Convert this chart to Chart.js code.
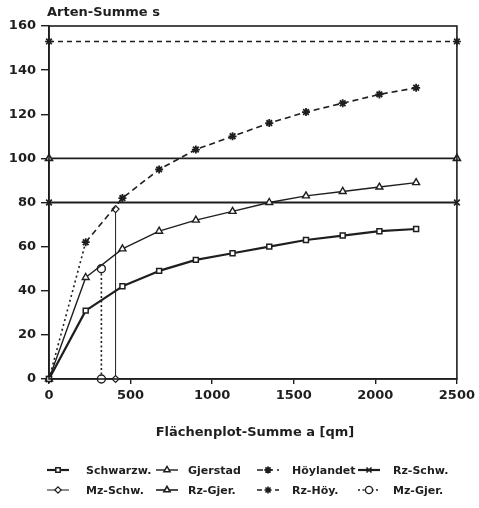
<!DOCTYPE html>
<html><head><meta charset="utf-8">
<script src="https://cdn.jsdelivr.net/npm/chart.js@4.4.1/dist/chart.umd.min.js"></script>
<style>html,body{margin:0;padding:0;background:#fff;}#wrap{width:479px;height:508px;}</style>
</head><body><div id="wrap"><canvas id="c" width="479" height="508"></canvas></div>
<script>
// ---- data ----
const xSteps    = [0, 225, 450, 675, 900, 1125, 1350, 1575, 1800, 2025, 2250];
const schwarzw  = [0, 31, 42, 49, 54, 57, 60, 63, 65, 67, 68];
const gjerstad  = [0, 46, 59, 67, 72, 76, 80, 83, 85, 87, 89];
const hoylandet = [0, 62, 82, 95, 104, 110, 116, 121, 125, 129, 132];
const rzX    = [0, 2500];
const rzSchw = [80, 80];
const rzGjer = [100, 100];
const rzHoy  = [153, 153];
const mzSchwX = [408, 408];
const mzSchwY = [0, 77];
const mzGjerX = [321, 321];
const mzGjerY = [0, 50];
const xTickVals = [0, 500, 1000, 1500, 2000, 2500];
const yTickVals = [0, 20, 40, 60, 80, 100, 120, 140, 160];
const seriesNames = ['Schwarzw.', 'Gjerstad', 'Höylandet', 'Rz-Schw.', 'Mz-Schw.', 'Rz-Gjer.', 'Rz-Höy.', 'Mz-Gjer.'];
const yTitle = 'Arten-Summe s';
const xTitle = 'Flächenplot-Summe a [qm]';

const INK = '#1e1e1e';
const FONT = '"DejaVu Sans", Verdana, sans-serif';
const pts = (xs, ys) => xs.map((x, i) => ({x: x, y: ys[i]}));

const datasets = [
  {label: seriesNames[0], data: pts(xSteps, schwarzw), borderWidth: 2.2, pointStyle: 'rect', pointRadius: 3.5, pointBorderWidth: 1.5},
  {label: seriesNames[1], data: pts(xSteps, gjerstad), borderWidth: 1.4, pointStyle: 'triangle', pointRadius: 4, pointBorderWidth: 1.4},
  {label: seriesNames[2], data: pts(xSteps, hoylandet), borderWidth: 1.6, borderDash: [6, 4], pointStyle: 'star', pointRadius: 4, pointBorderWidth: 1.8,
    segment: {borderDash: ctx => ctx.p0DataIndex === 0 ? [2, 3] : [6, 4]}},
  {label: seriesNames[3], data: pts(rzX, rzSchw), borderWidth: 2.2, pointStyle: 'crossRot', pointRadius: 4, pointBorderWidth: 1.6},
  {label: seriesNames[4], data: pts(mzSchwX, mzSchwY), borderWidth: 1, pointStyle: 'rectRot', pointRadius: 3.5, pointBorderWidth: 1.2},
  {label: seriesNames[5], data: pts(rzX, rzGjer), borderWidth: 1.6, pointStyle: 'triangle', pointRadius: 4, pointBorderWidth: 1.6},
  {label: seriesNames[6], data: pts(rzX, rzHoy), borderWidth: 1.4, borderDash: [5, 4], pointStyle: 'star', pointRadius: 4, pointBorderWidth: 1.6},
  {label: seriesNames[7], data: pts(mzGjerX, mzGjerY), borderWidth: 1.6, borderDash: [2, 2.5], pointStyle: 'circle', pointRadius: 4, pointBorderWidth: 1.4}
].map(d => Object.assign({borderColor: INK, pointBorderColor: INK, pointBackgroundColor: '#fff', backgroundColor: '#fff',
  tension: 0, fill: false, clip: false, borderJoinStyle: 'round'}, d));

const decor = {
  id: 'decor',
  beforeDraw(chart) {
    const c = chart.ctx;
    c.save(); c.fillStyle = '#fff'; c.fillRect(0, 0, chart.width, chart.height); c.restore();
  },
  afterDatasetsDraw(chart) {
    const c = chart.ctx, a = chart.chartArea;
    c.save();
    c.strokeStyle = INK; c.lineWidth = 1.6;
    c.strokeRect(a.left, a.top, a.right - a.left, a.bottom - a.top);
    c.restore();
  },
  afterDraw(chart) {
    const c = chart.ctx;
    c.save();
    c.fillStyle = INK;
    c.font = 'bold 13px ' + FONT;
    c.textBaseline = 'middle';
    c.textAlign = 'left';
    c.fillText(yTitle, 47, 13);
    c.textAlign = 'center';
    c.fillText(xTitle, 255, 433);
    // legend
    const symX = [58, 167, 268, 369];
    const txtX = [86, 188, 292, 393];
    const rowY = [470, 490];
    c.font = 'bold 11px ' + FONT;
    c.textAlign = 'left';
    chart.data.datasets.forEach((ds, i) => {
      const col = i % 4, row = Math.floor(i / 4);
      const cx = symX[col], cy = rowY[row];
      c.save();
      c.strokeStyle = INK;
      c.lineWidth = ds.borderWidth;
      c.setLineDash(ds.borderDash || []);
      c.beginPath(); c.moveTo(cx - 11, cy); c.lineTo(cx + 11, cy); c.stroke();
      c.setLineDash([]);
      c.fillStyle = '#fff';
      c.lineWidth = ds.pointBorderWidth;
      Chart.helpers.drawPoint(c, {pointStyle: ds.pointStyle, radius: ds.pointRadius * 0.9, borderWidth: ds.pointBorderWidth, rotation: 0}, cx, cy);
      c.restore();
      c.fillStyle = INK;
      c.fillText(ds.label, txtX[col], cy + 1);
    });
    c.restore();
  }
};

new Chart(document.getElementById('c'), {
  type: 'line',
  data: {datasets: datasets},
  plugins: [decor],
  options: {
    responsive: false,
    animation: false,
    devicePixelRatio: 1,
    layout: {padding: {top: 26, right: 20, left: 0, bottom: 0}},
    plugins: {legend: {display: false}, tooltip: {enabled: false}, title: {display: false}},
    scales: {
      x: {
        type: 'linear', min: 0, max: 2500,
        afterBuildTicks: s => { s.ticks = xTickVals.map(v => ({value: v})); },
        afterFit: s => { s.height = 129; },
        grid: {display: true, drawOnChartArea: false, drawTicks: true, tickLength: 5, color: INK, lineWidth: 1.4},
        border: {display: true, color: INK, width: 1.6},
        ticks: {color: INK, font: {family: FONT, size: 13, weight: 'bold'}, padding: 4, maxRotation: 0, autoSkip: false,
          callback: v => String(v)}
      },
      y: {
        type: 'linear', min: 0, max: 160,
        afterBuildTicks: s => { s.ticks = yTickVals.map(v => ({value: v})); },
        afterFit: s => { s.width = 49; },
        grid: {display: true, drawOnChartArea: false, drawTicks: true, tickLength: 8, color: INK, lineWidth: 1.4},
        border: {display: true, color: INK, width: 1.6},
        ticks: {color: INK, font: {family: FONT, size: 13, weight: 'bold'}, padding: 5, autoSkip: false,
          callback: v => String(v)}
      }
    }
  }
});
</script></body></html>
